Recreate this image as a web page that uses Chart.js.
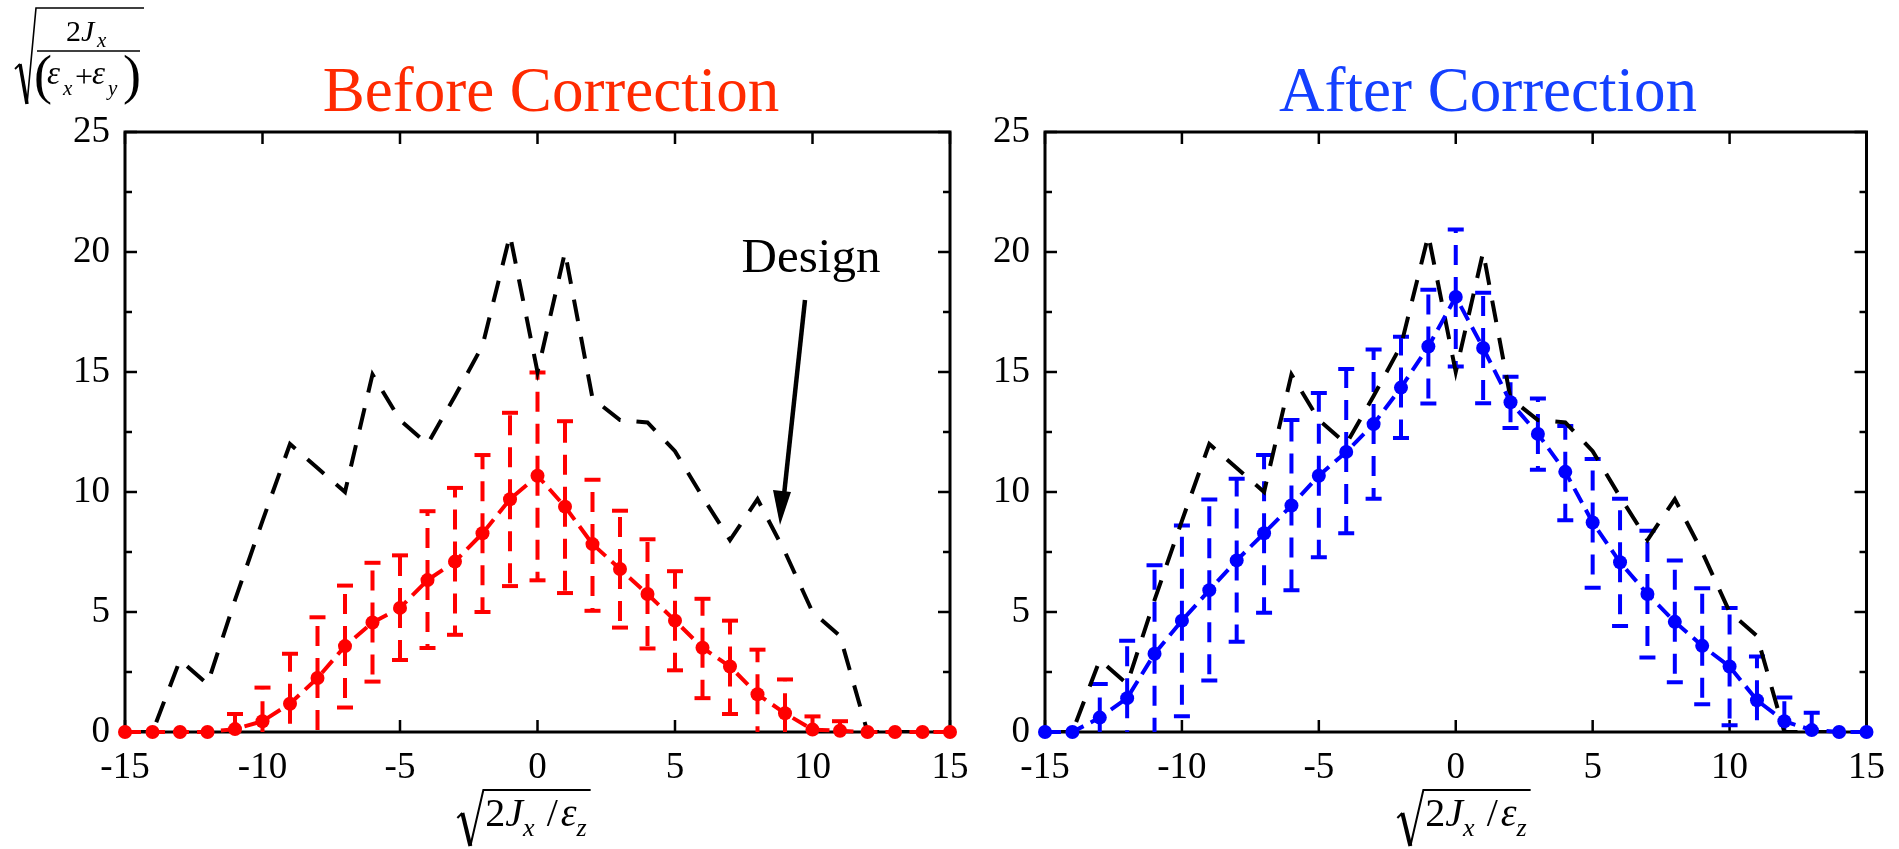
<!DOCTYPE html>
<html lang="en">
<head>
<meta charset="UTF-8">
<title>Before / After Correction</title>
<script src="https://cdn.jsdelivr.net/npm/chart.js@4.4.0/dist/chart.umd.min.js"></script>
<style>
    html, body { margin: 0; padding: 0; background: #fff; }
    #wrap { position: relative; width: 1899px; height: 849px; overflow: hidden; }
    canvas { position: absolute; top: 0; }
    #leftChart { left: 0; }
    #rightChart { left: 900px; }
</style>
</head>
<body>
<div id="wrap">
    <canvas id="leftChart" width="990" height="849"></canvas>
    <canvas id="rightChart" width="999" height="849"></canvas>
</div>
<script>
// horizontal bins
const xBins = [-15, -14, -13, -12, -11, -10, -9, -8, -7, -6, -5, -4, -3, -2, -1, 0,
               1, 2, 3, 4, 5, 6, 7, 8, 9, 10, 11, 12, 13, 14, 15];

// design distribution (same curve in both panels)
const designCurve = [0, 0, 3, 2, 5.5, 8.8, 12, 11, 10, 14.9, 13, 12, 14, 16.1, 20.7, 15,
                     20, 13.9, 13, 12.9, 11.7, 9.8, 8, 9.7, 7.5, 5, 4, 0, 0, 0, 0];

// before correction: mean, upper and lower error limits
const beforeMean = [0, 0, 0, 0, 0.12, 0.45, 1.18, 2.25, 3.58, 4.56, 5.17, 6.33, 7.1, 8.28, 9.7, 10.68,
                    9.39, 7.83, 6.79, 5.75, 4.64, 3.51, 2.73, 1.57, 0.78, 0.1, 0.05, 0, 0, 0, 0];
const beforeHigh = [null, null, null, null, 0.75, 1.85, 3.26, 4.78, 6.1, 7.05, 7.36, 9.2, 10.17, 11.54, 13.3, 14.98,
                    12.95, 10.51, 9.22, 8.03, 6.7, 5.55, 4.64, 3.43, 2.19, 0.65, 0.45, null, null, null, null];
const beforeLow  = [null, null, null, null, -0.5, -0.5, -0.5, -0.5, 1.02, 2.1, 3.0, 3.5, 4.05, 5.0, 6.08, 6.32,
                    5.79, 5.05, 4.35, 3.48, 2.57, 1.41, 0.75, -0.5, -0.5, -0.5, -0.5, null, null, null, null];

// after correction
const afterMean = [0, 0, 0.6, 1.41, 3.26, 4.64, 5.91, 7.15, 8.28, 9.44, 10.68, 11.67, 12.83, 14.35, 16.06, 18.13,
                   16.0, 13.74, 12.42, 10.84, 8.73, 7.07, 5.75, 4.59, 3.59, 2.73, 1.32, 0.45, 0.08, 0, 0];
const afterHigh = [null, null, 2.0, 3.8, 6.95, 8.6, 9.69, 10.55, 11.54, 13.0, 14.12, 15.12, 15.94, 16.47, 18.43, 20.94,
                   18.3, 14.8, 13.9, 12.75, 11.37, 9.72, 8.39, 7.15, 5.99, 5.17, 3.15, 1.44, 0.8, null, null];
const afterLow  = [null, null, -0.5, -0.5, -0.5, 0.66, 2.15, 3.76, 4.97, 5.91, 7.28, 8.28, 9.72, 12.25, 13.69, 15.23,
                   13.7, 12.67, 10.93, 8.82, 6.01, 4.42, 3.1, 2.07, 1.16, 0.28, -0.5, -0.5, -0.5, null, null];

const yMinorTicks = [2.5, 7.5, 12.5, 17.5, 22.5];

const SERIF = '"Liberation Serif", "Times New Roman", serif';

const pts = (vals) => xBins.map((x, i) => ({ x: x, y: vals[i] }));

// dashed error bars with solid caps, drawn under the points
const errorBars = {
    id: 'errorBars',
    beforeDatasetsDraw(chart) {
        const { ctx, chartArea: a, scales: { y } } = chart;
        chart.data.datasets.forEach((ds, i) => {
            if (!ds.errHigh) return;
            const meta = chart.getDatasetMeta(i);
            ctx.save();
            ctx.beginPath();
            ctx.rect(a.left, a.top, a.right - a.left, a.bottom - a.top);
            ctx.clip();
            ctx.strokeStyle = ds.borderColor;
            ctx.lineWidth = 4;
            meta.data.forEach((el, k) => {
                [ds.errHigh[k], ds.errLow[k]].forEach(v => {
                    if (v === null) return;
                    const ey = y.getPixelForValue(v);
                    ctx.setLineDash([20, 12]);
                    ctx.beginPath();
                    ctx.moveTo(el.x, el.y);
                    ctx.lineTo(el.x, ey);
                    ctx.stroke();
                    ctx.setLineDash([]);
                    ctx.beginPath();
                    ctx.moveTo(el.x - 8, ey);
                    ctx.lineTo(el.x + 8, ey);
                    ctx.stroke();
                });
            });
            ctx.restore();
        });
    }
};

// closed box with inward ticks on all four sides
const frame = {
    id: 'frame',
    beforeDatasetsDraw(chart) {
        const { ctx, chartArea: a, scales: { x, y } } = chart;
        ctx.save();
        ctx.strokeStyle = '#000';
        ctx.lineWidth = 2.5;
        ctx.beginPath();
        x.ticks.forEach(t => {
            const px = x.getPixelForValue(t.value);
            ctx.moveTo(px, a.bottom); ctx.lineTo(px, a.bottom - 12);
            ctx.moveTo(px, a.top); ctx.lineTo(px, a.top + 12);
        });
        y.ticks.forEach(t => {
            const py = y.getPixelForValue(t.value);
            ctx.moveTo(a.left, py); ctx.lineTo(a.left + 12, py);
            ctx.moveTo(a.right, py); ctx.lineTo(a.right - 12, py);
        });
        yMinorTicks.forEach(v => {
            const py = y.getPixelForValue(v);
            ctx.moveTo(a.left, py); ctx.lineTo(a.left + 7, py);
            ctx.moveTo(a.right, py); ctx.lineTo(a.right - 7, py);
        });
        ctx.stroke();
        ctx.lineWidth = 3;
        ctx.strokeRect(a.left, a.top, a.right - a.left, a.bottom - a.top);
        ctx.restore();
    }
};

// sqrt(2Jx / eps_z) under the x axis
function drawXLabel(ctx, cx) {
    const base = 826;
    const parts = [
        { t: '2', f: '40px ' + SERIF, dy: 0 },
        { t: 'J', f: 'italic 40px ' + SERIF, dy: 0 },
        { t: 'x', f: 'italic 26px ' + SERIF, dy: 10 },
        { t: ' /', f: '40px ' + SERIF, dy: 0, pad: 2 },
        { t: 'ε', f: 'italic 40px ' + SERIF, dy: 0, pad: 3 },
        { t: 'z', f: 'italic 26px ' + SERIF, dy: 10 }
    ];
    let w = 0;
    parts.forEach(p => { ctx.font = p.f; p.w = ctx.measureText(p.t).width; w += p.w + (p.pad || 0); });
    const total = w + 30;
    const x0 = cx - total / 2;
    ctx.save();
    ctx.fillStyle = '#000';
    ctx.strokeStyle = '#000';
    ctx.lineJoin = 'miter';
    ctx.lineWidth = 2;
    ctx.beginPath();
    ctx.moveTo(x0, 818);
    ctx.lineTo(x0 + 5, 813);
    ctx.stroke();
    ctx.lineWidth = 4;
    ctx.beginPath();
    ctx.moveTo(x0 + 5, 813);
    ctx.lineTo(x0 + 13, 846);
    ctx.stroke();
    ctx.lineWidth = 2;
    ctx.beginPath();
    ctx.moveTo(x0 + 13, 846);
    ctx.lineTo(x0 + 26, 790);
    ctx.lineTo(x0 + total + 2, 790);
    ctx.stroke();
    let cxp = x0 + 28;
    parts.forEach(p => {
        cxp += (p.pad || 0);
        ctx.font = p.f;
        ctx.fillText(p.t, cxp, base + p.dy);
        cxp += p.w;
    });
    ctx.restore();
}

// sqrt(2Jx / (eps_x + eps_y)) above the left axis
function drawYTitle(ctx) {
    ctx.save();
    ctx.fillStyle = '#000';
    ctx.strokeStyle = '#000';
    ctx.lineWidth = 1.8;
    ctx.beginPath();
    ctx.moveTo(15, 69); ctx.lineTo(20, 64);
    ctx.stroke();
    ctx.lineWidth = 3.5;
    ctx.beginPath();
    ctx.moveTo(20, 64); ctx.lineTo(27, 104);
    ctx.stroke();
    ctx.lineWidth = 1.6;
    ctx.beginPath();
    ctx.moveTo(27, 104); ctx.lineTo(36, 8); ctx.lineTo(144, 8);
    ctx.stroke();
    ctx.beginPath();
    ctx.moveTo(37, 51); ctx.lineTo(140, 51);
    ctx.stroke();
    ctx.font = '30px ' + SERIF;
    ctx.fillText('2', 66, 41);
    ctx.font = 'italic 30px ' + SERIF;
    ctx.fillText('J', 81, 41);
    ctx.font = 'italic 21px ' + SERIF;
    ctx.fillText('x', 97, 47);
    ctx.font = '54px ' + SERIF;
    ctx.fillText('(', 34, 93);
    ctx.fillText(')', 123, 93);
    ctx.font = 'italic 33px ' + SERIF;
    ctx.fillText('ε', 47, 84);
    ctx.fillText('ε', 92, 84);
    ctx.font = 'italic 21px ' + SERIF;
    ctx.fillText('x', 63, 95);
    ctx.fillText('y', 108, 95);
    ctx.font = '32px ' + SERIF;
    ctx.fillText('+', 75, 87);
    ctx.restore();
}

function makeChart(id, opts) {
    const annotate = {
        id: 'annotate',
        afterDraw(chart) {
            const ctx = chart.ctx;
            ctx.save();
            ctx.font = '63px ' + SERIF;
            ctx.fillStyle = opts.titleColor;
            ctx.textAlign = 'center';
            ctx.textBaseline = 'alphabetic';
            ctx.fillText(opts.title, opts.titleX, 111);
            ctx.restore();
            drawXLabel(ctx, opts.labelX);
            if (opts.extra) opts.extra(ctx);
        }
    };
    return new Chart(document.getElementById(id), {
        type: 'line',
        data: {
            datasets: [{
                label: opts.title,
                data: pts(opts.mean),
                errHigh: opts.high,
                errLow: opts.low,
                borderColor: opts.color,
                backgroundColor: opts.color,
                borderWidth: 4,
                borderDash: [16, 8],
                pointRadius: 7,
                pointBorderWidth: 0,
                pointBackgroundColor: opts.color,
                tension: 0,
                clip: false,
                order: 0
            }, {
                label: 'Design',
                data: pts(designCurve),
                borderColor: '#000',
                borderWidth: 4,
                borderDash: [22, 16],
                pointRadius: 0,
                tension: 0,
                order: 1
            }]
        },
        options: {
            responsive: false,
            animation: false,
            devicePixelRatio: 1,
            layout: { padding: { left: 0, right: opts.padRight, top: 132, bottom: 0 } },
            plugins: { legend: { display: false }, tooltip: { enabled: false } },
            scales: {
                x: {
                    type: 'linear',
                    min: -15, max: 15,
                    grid: { display: false, drawTicks: false },
                    border: { display: false },
                    ticks: { stepSize: 5, padding: 14, color: '#000', font: { family: SERIF, size: 37 } },
                    afterFit: s => { s.height = 117; }
                },
                y: {
                    min: 0, max: 25,
                    grid: { display: false, drawTicks: false },
                    border: { display: false },
                    ticks: { stepSize: 5, padding: 15, color: '#000', font: { family: SERIF, size: 37 } },
                    afterFit: s => { s.width = opts.axisWidth; }
                }
            }
        },
        plugins: [frame, errorBars, annotate]
    });
}

makeChart('leftChart', {
    title: 'Before Correction', titleColor: '#ff2a00', titleX: 551, labelX: 523,
    color: '#ff0000', mean: beforeMean, high: beforeHigh, low: beforeLow,
    axisWidth: 125, padRight: 40,
    extra(ctx) {
        drawYTitle(ctx);
        ctx.save();
        ctx.fillStyle = '#000';
        ctx.strokeStyle = '#000';
        ctx.font = '49px ' + SERIF;
        ctx.textAlign = 'center';
        ctx.fillText('Design', 811, 272);
        // arrow pointing at the design curve
        ctx.lineWidth = 4.5;
        ctx.beginPath();
        ctx.moveTo(805, 300);
        ctx.lineTo(784, 495);
        ctx.stroke();
        ctx.beginPath();
        ctx.moveTo(780, 525);
        ctx.lineTo(773, 490);
        ctx.lineTo(791, 492);
        ctx.closePath();
        ctx.fill();
        ctx.restore();
    }
});

makeChart('rightChart', {
    title: 'After Correction', titleColor: '#1440ff', titleX: 588, labelX: 563,
    color: '#0000ff', mean: afterMean, high: afterHigh, low: afterLow,
    axisWidth: 145, padRight: 30
});
</script>
</body>
</html>
